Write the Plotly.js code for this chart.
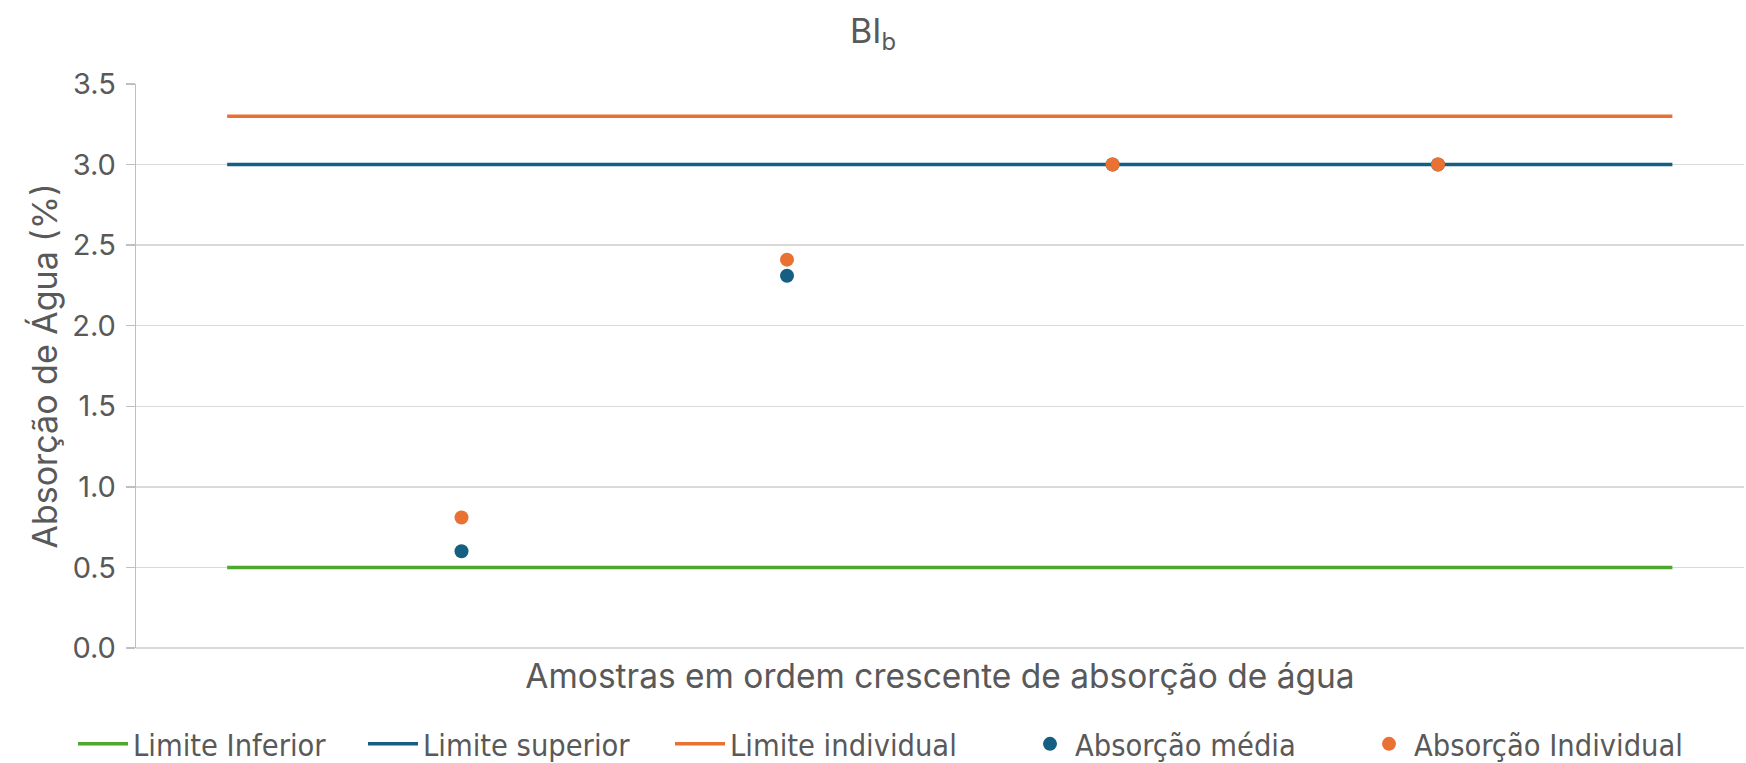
<!DOCTYPE html>
<html>
<head>
<meta charset="utf-8">
<script src="https://cdn.plot.ly/plotly-3.0.1.min.js"></script>
<style>html,body{margin:0;padding:0;background:#fff;}#chart{width:1746px;height:763px;}</style>
</head>
<body>
<div id="chart"></div>
<script>
// Data
const sampleX = [1, 2, 3, 4];
const absorcaoMedia = [0.60, 2.31, 3.00, 3.00];
const absorcaoIndividual = [0.81, 2.41, 3.00, 3.00];
const limitX = [0.28, 4.72];
const limiteInferior = [0.5, 0.5];
const limiteSuperior = [3.0, 3.0];
const limiteIndividual = [3.3, 3.3];
const seriesNames = ["Limite Inferior", "Limite superior", "Limite individual", "Absorção média", "Absorção Individual"];
const yTicks = [0, 0.5, 1.0, 1.5, 2.0, 2.5, 3.0, 3.5];

const GREEN = "#4EA72E", BLUE = "#156082", ORANGE = "#E97132";
const TXT = "#595959";
const FONT = "Inter, 'Liberation Sans', sans-serif";
const LFONT = "'DejaVu Sans Condensed', 'Liberation Sans', sans-serif";

const traces = [
  {x: limitX, y: limiteInferior, mode: "lines", name: seriesNames[0], line: {color: GREEN, width: 3.5}, legend: "legend"},
  {x: limitX, y: limiteSuperior, mode: "lines", name: seriesNames[1], line: {color: BLUE, width: 3.5}, legend: "legend2"},
  {x: limitX, y: limiteIndividual, mode: "lines", name: seriesNames[2], line: {color: ORANGE, width: 3.5}, legend: "legend3"},
  {x: sampleX, y: absorcaoMedia, mode: "markers", name: seriesNames[3], marker: {color: BLUE, size: 14}, legend: "legend4"},
  {x: sampleX, y: absorcaoIndividual, mode: "markers", name: seriesNames[4], marker: {color: ORANGE, size: 14}, legend: "legend5"}
];

function leg(px, iw) {
  return {xref: "container", yref: "container", x: px / 1746, y: 1 - 744 / 763, xanchor: "left", yanchor: "middle",
          orientation: "h", bgcolor: "rgba(0,0,0,0)", borderwidth: 0, itemwidth: iw,
          font: {family: LFONT, size: 30.5, color: TXT}};
}

const layout = {
  width: 1746, height: 763,
  paper_bgcolor: "#fff", plot_bgcolor: "#fff",
  margin: {l: 136, r: 2, t: 84, b: 115},
  font: {family: FONT, color: TXT},
  title: {text: "BI<sub>b</sub>", x: 0.5, xref: "container", xanchor: "center", y: 1 - 31 / 763, yref: "container", yanchor: "middle",
          font: {family: FONT, size: 34, color: TXT}},
  xaxis: {range: [0, 4.94], showgrid: false, zeroline: false, showticklabels: false, ticks: "", showline: false,
          title: {text: "Amostras em ordem crescente de absorção de água", font: {family: FONT, size: 33.5, color: TXT}, standoff: 16}},
  yaxis: {range: [0, 3.5], tickvals: yTicks, ticktext: yTicks.map(v => v.toFixed(1)),
          showgrid: true, gridcolor: "#D9D9D9", gridwidth: 1.3,
          zeroline: true, zerolinecolor: "#D9D9D9", zerolinewidth: 1.3,
          showline: true, linecolor: "#BFBFBF", linewidth: 1.3,
          ticks: "outside", ticklen: 9, tickcolor: "#BFBFBF", tickwidth: 1.3,
          tickfont: {family: FONT, size: 29, color: TXT}, ticklabelstandoff: 4,
          title: {text: "Absorção de Água (%)", font: {family: FONT, size: 34, color: TXT}, standoff: 4}},
  showlegend: true,
  legend: leg(73, 50), legend2: leg(363, 50), legend3: leg(670, 50), legend4: leg(1025, 40), legend5: leg(1364, 40)
};

Plotly.newPlot("chart", traces, layout, {displayModeBar: false, staticPlot: true});
</script>
</body>
</html>
